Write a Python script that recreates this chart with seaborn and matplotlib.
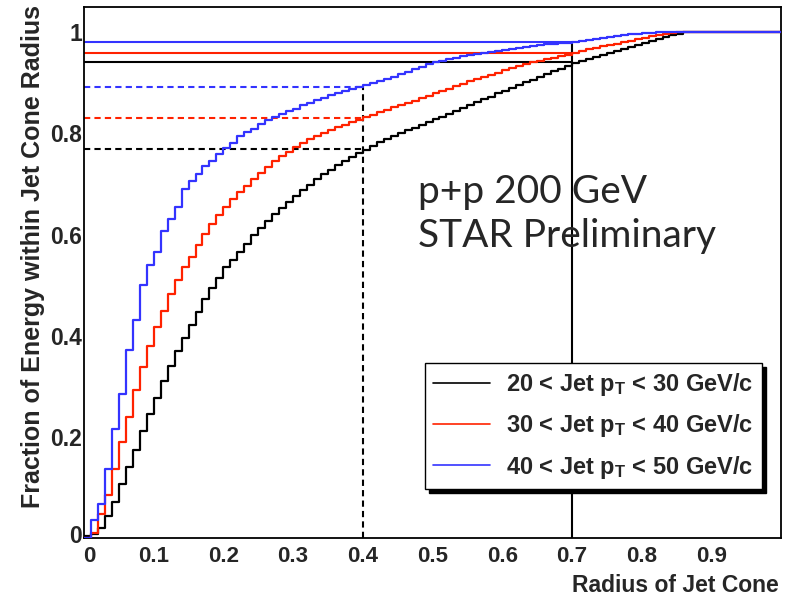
import numpy as np
import pandas as pd
import matplotlib
matplotlib.use("Agg")
import matplotlib.pyplot as plt
import matplotlib.transforms as mtransforms
import seaborn as sns
from matplotlib.ticker import MultipleLocator

# ---------------- data ----------------
series_labels = [
    "20 < Jet p$_\\mathrm{T}$ < 30 GeV/c",
    "30 < Jet p$_\\mathrm{T}$ < 40 GeV/c",
    "40 < Jet p$_\\mathrm{T}$ < 50 GeV/c",
]
series_colors = ["#000000", "#ff2200", "#3333ff"]

# lower edges of the 0.01-wide radius bins
radius_bins = np.round(np.arange(100) * 0.01, 2)

frac_20_30 = [
    0.003,
    0.007, 0.020, 0.044, 0.072, 0.106, 0.140, 0.175, 0.211, 0.246, 0.277,
    0.310, 0.340, 0.370, 0.396, 0.422, 0.447, 0.472, 0.495, 0.515, 0.535,
    0.549, 0.566, 0.582, 0.599, 0.613, 0.627, 0.640, 0.653,
    0.665, 0.677, 0.688, 0.699, 0.709, 0.719, 0.728, 0.737, 0.745, 0.753,
    0.761, 0.768, 0.776, 0.783,
    0.789, 0.795, 0.800, 0.806, 0.811, 0.817, 0.822, 0.828, 0.833, 0.838,
    0.844, 0.850, 0.856, 0.862, 0.868,
    0.873, 0.879, 0.884, 0.890, 0.895, 0.901, 0.906, 0.912, 0.917, 0.923,
    0.928, 0.934, 0.939,
    0.943, 0.947, 0.951, 0.955, 0.959, 0.963, 0.967, 0.971, 0.975, 0.979,
    0.983, 0.987, 0.991, 0.994, 0.997, 1.000,
    1.0, 1.0, 1.0, 1.0, 1.0, 1.0, 1.0, 1.0, 1.0, 1.0, 1.0, 1.0, 1.0,
]

frac_30_40 = [
    0.000,
    0.010, 0.048, 0.086, 0.137, 0.189, 0.240, 0.292, 0.338, 0.379, 0.417,
    0.449, 0.482, 0.511, 0.535, 0.556, 0.579, 0.601, 0.620, 0.638, 0.655,
    0.670, 0.684, 0.697, 0.710, 0.722, 0.734, 0.745, 0.755, 0.764, 0.773,
    0.781, 0.788, 0.795, 0.801, 0.807, 0.812, 0.817, 0.822, 0.827, 0.832,
    0.837, 0.842,
    0.847, 0.852, 0.857, 0.861, 0.865, 0.870, 0.875, 0.880, 0.884, 0.888,
    0.893, 0.898, 0.903, 0.907, 0.912,
    0.916, 0.920, 0.925, 0.929, 0.933, 0.938, 0.941, 0.944, 0.947, 0.950,
    0.953, 0.956, 0.960,
    0.963, 0.966, 0.969, 0.972, 0.975, 0.977, 0.980, 0.983, 0.986, 0.989,
    0.992, 0.995, 0.997, 0.999, 1.000,
    1.0, 1.0, 1.0, 1.0, 1.0, 1.0, 1.0, 1.0, 1.0, 1.0, 1.0, 1.0, 1.0, 1.0,
]

frac_40_50 = [
    0.000,
    0.036, 0.068, 0.137, 0.216, 0.285, 0.371, 0.432, 0.500, 0.540, 0.566,
    0.607, 0.630, 0.655,
    0.690, 0.706, 0.720, 0.736, 0.746, 0.759, 0.772, 0.782, 0.795, 0.802,
    0.808, 0.818, 0.827, 0.832, 0.838, 0.845, 0.849, 0.856, 0.861, 0.867,
    0.871, 0.876, 0.880, 0.883, 0.887, 0.891, 0.895, 0.899, 0.903,
    0.907, 0.912, 0.917, 0.922, 0.927, 0.932, 0.937, 0.941, 0.944, 0.947,
    0.950, 0.953, 0.955, 0.957, 0.959, 0.961, 0.963, 0.965, 0.967, 0.969,
    0.971, 0.973, 0.975, 0.976, 0.977, 0.978, 0.979, 0.980, 0.982, 0.984,
    0.986, 0.988, 0.990, 0.992, 0.994, 0.996, 0.997, 0.998, 0.999, 1.000,
    1.0, 1.0, 1.0, 1.0, 1.0, 1.0, 1.0, 1.0, 1.0, 1.0, 1.0, 1.0, 1.0, 1.0,
    1.0, 1.0, 1.0,
]

# reference lines: fraction within R = 0.7 (solid) and R = 0.4 (dashed)
frac_at_07 = [0.941, 0.960, 0.980]
frac_at_04 = [0.770, 0.831, 0.891]
r_cut_outer = 0.7
r_cut_inner = 0.4

x_ticks = [0, 0.1, 0.2, 0.3, 0.4, 0.5, 0.6, 0.7, 0.8, 0.9]
x_tick_labels = ["0", "0.1", "0.2", "0.3", "0.4", "0.5", "0.6", "0.7", "0.8", "0.9"]
y_ticks = [0, 0.2, 0.4, 0.6, 0.8, 1.0]
y_tick_labels = ["0", "0.2", "0.4", "0.6", "0.8", "1"]

# ---------------- style ----------------
sns.set_theme(style="white")
plt.rcParams["font.family"] = ["Liberation Sans", "DejaVu Sans"]
plt.rcParams["font.weight"] = "bold"
plt.rcParams["mathtext.fontset"] = "custom"
plt.rcParams["mathtext.rm"] = "Liberation Sans:bold"
plt.rcParams["mathtext.it"] = "Liberation Sans:bold"
plt.rcParams["mathtext.bf"] = "Liberation Sans:bold"

rows = []
for lab, vals in zip(series_labels, [frac_20_30, frac_30_40, frac_40_50]):
    xs = list(radius_bins) + [1.0]
    ys = list(vals) + [vals[-1]]
    for xv, yv in zip(xs, ys):
        rows.append({"radius": xv, "fraction": yv, "series": lab})
df = pd.DataFrame(rows)

W, H = 785, 598
fig = plt.figure(figsize=(W / 100, H / 100), dpi=100)
ax_l, ax_r, ax_t, ax_b = 84, 781, 7, 538
ax = fig.add_axes([ax_l / W, 1 - ax_b / H, (ax_r - ax_l) / W, (ax_b - ax_t) / H])

# reference lines
for v, c in zip(frac_at_07, series_colors):
    ax.plot([0, r_cut_outer], [v, v], color=c, lw=1.5, zorder=2)
for v, c in zip(frac_at_04, series_colors):
    ax.plot([0, r_cut_inner], [v, v], color=c, lw=1.5, ls=(0, (3, 2)), zorder=2)
ax.plot([r_cut_outer, r_cut_outer], [0, max(frac_at_07)], color="black", lw=1.5, zorder=2)
ax.plot([r_cut_inner, r_cut_inner], [0, max(frac_at_04)], color="black", lw=1.5,
        ls=(0, (3, 2)), zorder=2)

sns.lineplot(data=df, x="radius", y="fraction", hue="series", hue_order=series_labels,
             palette=series_colors, drawstyle="steps-post", lw=1.6, estimator=None,
             sort=True, ax=ax, zorder=3)

ax.set_xlim(0, 1.0)
ax.set_ylim(0, 1.05)
ax.set_xticks(x_ticks)
ax.set_xticklabels(x_tick_labels)
ax.set_yticks(y_ticks)
ax.set_yticklabels(y_tick_labels)
ax.xaxis.set_minor_locator(MultipleLocator(0.02))
ax.yaxis.set_minor_locator(MultipleLocator(0.05))
ax.tick_params(axis="both", which="both", direction="in", top=False, right=False,
               color="black", width=1.0)
ax.tick_params(axis="x", which="major", length=12, pad=6, labelsize=16)
ax.tick_params(axis="x", which="minor", length=6)
ax.tick_params(axis="y", which="major", length=15, pad=1.5, labelsize=16.5)
ax.tick_params(axis="y", which="minor", length=8)
for sp in ax.spines.values():
    sp.set_color("black")
    sp.set_linewidth(1.3)
    sp.set_visible(True)
ax.set_xlabel("")
ax.set_ylabel("")

# nudge the two "0" labels at the origin apart, as in the reference
x0_lab = ax.get_xticklabels()[0]
x0_lab.set_transform(x0_lab.get_transform() +
                     mtransforms.ScaledTranslation(4 / 72, 0, fig.dpi_scale_trans))
y0_lab = ax.get_yticklabels()[0]
y0_lab.set_transform(y0_lab.get_transform() +
                     mtransforms.ScaledTranslation(0, 3 / 72, fig.dpi_scale_trans))

fig.text(779 / W, 1 - 585 / H, "Radius of Jet Cone", ha="right", va="center",
         fontsize=16.5, fontweight="bold")
fig.text(33 / W, 1 - 5 / H, "Fraction of Energy within Jet Cone Radius", rotation=90,
         ha="center", va="top", fontsize=18, fontweight="bold")

ax.text(0.479, 0.663, "p+p 200 GeV", fontsize=28, fontweight="normal",
        family=["Lato", "DejaVu Sans"], ha="left", va="baseline")
ax.text(0.479, 0.576, "STAR Preliminary", fontsize=28, fontweight="normal",
        family=["Lato", "DejaVu Sans"], ha="left", va="baseline")

handles, labs = ax.get_legend_handles_labels()
leg = ax.legend(handles, labs, loc="upper right", bbox_to_anchor=(762 / W, 1 - 363 / H),
                bbox_transform=fig.transFigure, frameon=True, fancybox=False,
                shadow={"color": "black", "alpha": 1.0, "ox": 3, "oy": -3},
                fontsize=17, handlelength=2.4, handletextpad=0.7,
                labelspacing=0.6, borderpad=0.35, borderaxespad=0)
leg.get_frame().set_edgecolor("black")
leg.get_frame().set_linewidth(1.0)
leg.get_frame().set_facecolor("white")
for ln in leg.get_lines():
    ln.set_linewidth(1.2)

fig.savefig("out.png", dpi=100)
